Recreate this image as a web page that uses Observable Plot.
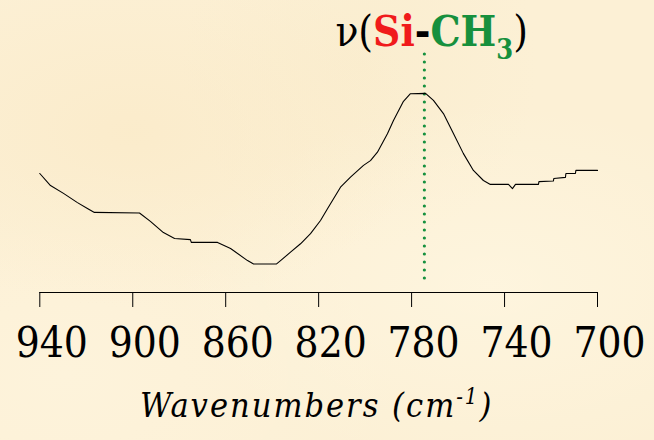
<!DOCTYPE html>
<html>
<head>
<meta charset="utf-8">
<script src="https://cdn.jsdelivr.net/npm/d3@7"></script>
<script src="https://cdn.jsdelivr.net/npm/@observablehq/plot@0.6"></script>
<style>
html, body { margin: 0; padding: 0; width: 654px; height: 440px; overflow: hidden; }
body {
  background-color: #fcf0d5;
  background-image:
    radial-gradient(ellipse at 20% 30%, rgba(250,232,195,0.55), rgba(250,232,195,0) 40%),
    radial-gradient(ellipse at 75% 65%, rgba(255,248,228,0.6), rgba(255,248,228,0) 45%),
    radial-gradient(ellipse at 55% 15%, rgba(248,234,200,0.45), rgba(248,234,200,0) 35%),
    radial-gradient(ellipse at 10% 85%, rgba(255,246,225,0.5), rgba(255,246,225,0) 40%);
}
#chart svg { display: block; }
</style>
</head>
<body>
<div id="chart"></div>
<script>
// Spectrum trace (wavenumber in cm-1, relative absorbance)
const wavenumbers = [940.0, 935.4, 929.8, 923.8, 919.5, 916.5, 897.1, 892.4, 886.8, 882.0,
  875.2, 874.8, 863.5, 857.9, 850.6, 848.0, 838.1, 836.4, 832.1, 827.8,
  823.5, 819.2, 816.2, 810.6, 806.3, 800.7, 797.7, 794.7, 790.4, 787.8,
  783.5, 780.5, 774.0, 770.6, 766.3, 762.0, 757.7, 753.4, 749.1, 746.1,
  738.3, 736.6, 735.3, 725.4, 725.2, 719.0, 718.8, 713.8, 713.6, 709.5,
  709.3, 700.0];
const absorbance = [0.425, 0.382, 0.354, 0.321, 0.300, 0.286, 0.284, 0.254, 0.214, 0.193,
  0.189, 0.179, 0.179, 0.157, 0.114, 0.102, 0.102, 0.114, 0.144, 0.174,
  0.210, 0.257, 0.299, 0.376, 0.412, 0.454, 0.471, 0.501, 0.567, 0.614,
  0.683, 0.710, 0.711, 0.686, 0.639, 0.568, 0.496, 0.436, 0.400, 0.386,
  0.386, 0.371, 0.386, 0.386, 0.396, 0.398, 0.407, 0.411, 0.425, 0.425,
  0.436, 0.436];

const tickValues = [940, 900, 860, 820, 780, 740, 700];
const peakWavenumber = [774.5];
const peakRuleSpan = [0.05, 0.857];
const annotationParts = ["ν", "(", "Si", "-", "CH", "3", ")"];
const axisTitleParts = ["Wavenumbers (cm", "-1", ")"];

const data = wavenumbers.map((w, i) => ({ w, a: absorbance[i] }));
const annotationText = annotationParts.join("");
const axisTitleText = axisTitleParts.join("");
const serif = "DejaVu Serif Condensed, DejaVu Serif";

const plot = Plot.plot({
  width: 654,
  height: 440,
  marginLeft: 39.3,
  marginRight: 57,
  marginTop: 12,
  marginBottom: 148,
  style: { background: "transparent" },
  x: { domain: [940, 700], axis: null },
  y: { domain: [0, 1], axis: null },
  marks: [
    Plot.ruleX(peakWavenumber, {
      y1: peakRuleSpan[0], y2: peakRuleSpan[1],
      stroke: "#16913f", strokeWidth: 3.2, strokeDasharray: "0 8", strokeLinecap: "round"
    }),
    Plot.line(data, { x: "w", y: "a", stroke: "#000", strokeWidth: 1.1 }),
    Plot.axisX({
      ticks: tickValues, tickSize: 15, tickPadding: 20, fontSize: 42, fontFamily: serif,
      tickFormat: d => String(d), stroke: "#000", fill: "#000", label: null
    }),
    Plot.frame({ anchor: "bottom", stroke: "#000" }),
    Plot.text([annotationText], {
      x: peakWavenumber, frameAnchor: "top", text: d => d, fontFamily: serif,
      textAnchor: "start", lineAnchor: "top", dx: -89, dy: 4, fontSize: 42, fill: "#000"
    }),
    Plot.text([axisTitleText], {
      frameAnchor: "bottom", text: d => d, lineAnchor: "top", dy: 100, dx: -2, fontFamily: serif,
      fontSize: 34, fontStyle: "italic", fill: "#000"
    })
  ]
});

document.getElementById("chart").appendChild(plot);

const svg = d3.select(plot);

// shift tick labels slightly right like the original
svg.selectAll("g[aria-label='x-axis tick label']").each(function () {
  const g = d3.select(this);
  g.attr("transform", (g.attr("transform") || "") + " translate(12,0)");
});

// multi-coloured annotation with subscript
const annotColors = ["#000", "#000", "#f01b1b", "#000", "#17903d", "#17903d", "#000"];
const annotWeights = ["normal", "normal", "bold", "bold", "bold", "bold", "normal"];
svg.selectAll("text").filter(function () { return this.textContent === annotationText; }).each(function () {
  const t = d3.select(this);
  t.text(null);
  annotationParts.forEach((p, i) => {
    const s = t.append("tspan").text(p).attr("fill", annotColors[i]).attr("font-weight", annotWeights[i]);
    if (i === 5) s.attr("font-size", 27).attr("dy", 13);
    if (i === 6) s.attr("dy", -13);
  });
});

// axis title with superscript
svg.selectAll("text").filter(function () { return this.textContent === axisTitleText; }).each(function () {
  const t = d3.select(this);
  t.text(null).attr("letter-spacing", 2);
  t.append("tspan").text(axisTitleParts[0]);
  t.append("tspan").text(axisTitleParts[1]).attr("font-size", 22).attr("dy", -13);
  t.append("tspan").text(axisTitleParts[2]).attr("dy", 13);
});
</script>
</body>
</html>
